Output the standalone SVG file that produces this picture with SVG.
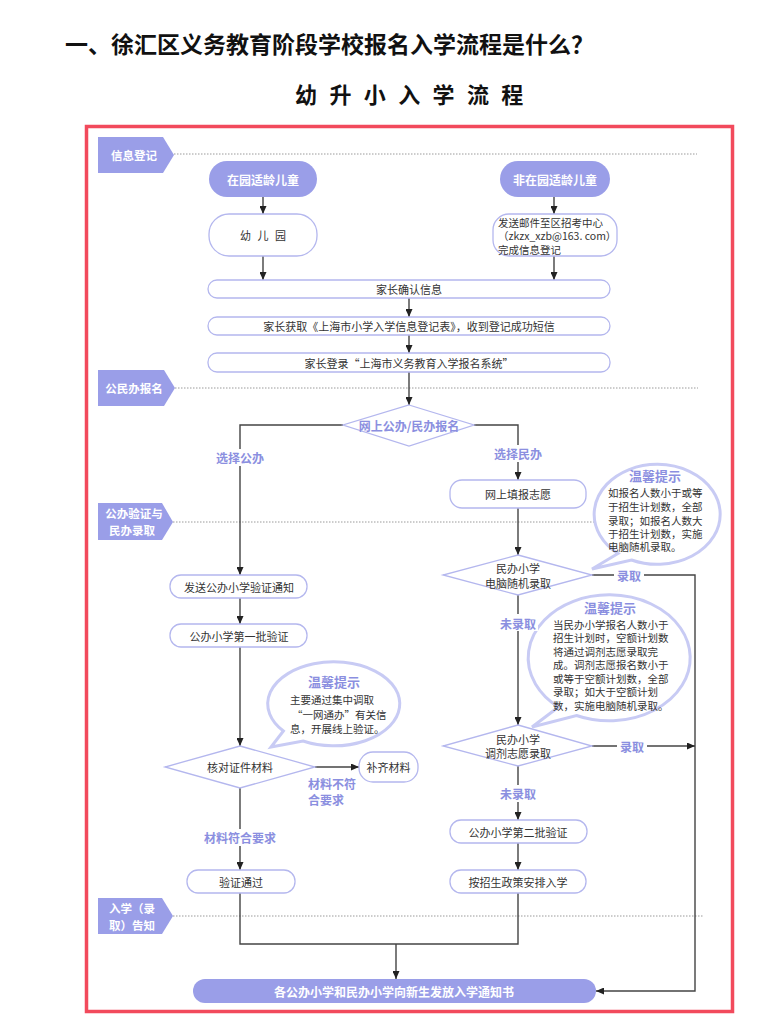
<svg xmlns="http://www.w3.org/2000/svg" width="782" height="1022" viewBox="0 0 782 1022">
<style>
text{font-family:"Noto Sans CJK SC","Noto Sans",sans-serif;dominant-baseline:central}
.lane{fill:#9a9ee8}
.lanet{fill:#fff;font-size:11.5px;font-weight:bold;text-anchor:middle}
.pill{fill:#9a9ee8}
.pt{fill:#fff;font-size:12px;font-weight:bold;text-anchor:middle}
.box{fill:#fff;stroke:#b4b7ee;stroke-width:1.3}
.bt{font-size:11px;fill:#333;text-anchor:middle}
.conn{stroke:#444;stroke-width:1.4;fill:none}
.dot{stroke:#9a9a9a;stroke-width:1;stroke-dasharray:1.5 1.5;fill:none}
.lbl{fill:#8b8fe0;font-size:12px;font-weight:bold;text-anchor:middle}
.lbls{fill:#8b8fe0;font-size:12px;font-weight:bold}
.bub{fill:#fff;stroke:#c8cbf4;stroke-width:3}
.tipt{fill:#8b8fe0;font-size:13px;font-weight:bold;text-anchor:middle}
.tip{fill:#333;font-size:10.5px}
.dia{fill:#fff;stroke:#b4b7ee;stroke-width:1.3}
</style>
<defs>
<marker id="ar" viewBox="0 0 8 7" refX="8" refY="3.5" markerWidth="8" markerHeight="7" markerUnits="userSpaceOnUse" orient="auto">
<path d="M0,0 L8,3.5 L0,7 z" fill="#222"/>
</marker>
</defs>
<rect width="782" height="1022" fill="#fff"/>
<text x="65" y="43" font-size="23" font-weight="bold" fill="#111">一、徐汇区义务教育阶段学校报名入学流程是什么？</text>
<text x="295" y="93" font-size="22" font-weight="bold" fill="#111" letter-spacing="3.7">幼 升 小 入 学 流 程</text>
<rect x="86.5" y="126.5" width="646" height="885" fill="none" stroke="#f24a5c" stroke-width="3.5"/>

<g id="lanes">
<path class="dot" d="M174,154 H697"/>
<path class="dot" d="M175,388 H698"/>
<path class="dot" d="M173,522 H697"/>
<path class="dot" d="M173,916 H703"/>
<g id="lane1"><polygon class="lane" points="98,137 163,137 174,155 163,173 98,173"/><text class="lanet" x="134" y="155">信息登记</text></g>
<g id="lane2"><polygon class="lane" points="98,370 164,370 175,388 164,406 98,406"/><text class="lanet" x="134" y="388">公民办报名</text></g>
<g id="lane3"><polygon class="lane" points="98,503 162,503 173,522 162,540 98,540"/><text class="lanet" x="134" y="513">公办验证与</text><text class="lanet" x="132" y="530">民办录取</text></g>
<g id="lane4"><polygon class="lane" points="98,898 162,898 173,916 162,934 98,934"/><text class="lanet" x="132" y="908">入学（录</text><text class="lanet" x="132" y="925">取）告知</text></g>
</g>

<g id="connectors">
<path class="conn" d="M263,197 V214" marker-end="url(#ar)"/>
<path class="conn" d="M554,197 V214" marker-end="url(#ar)"/>
<path class="conn" d="M263,256 V280" marker-end="url(#ar)"/>
<path class="conn" d="M554,256 V280" marker-end="url(#ar)"/>
<path class="conn" d="M409,298 V317" marker-end="url(#ar)"/>
<path class="conn" d="M409,335 V353" marker-end="url(#ar)"/>
<path class="conn" d="M409,372 V405" marker-end="url(#ar)"/>
<path class="conn" d="M343,425 H240 V575" marker-end="url(#ar)"/>
<path class="conn" d="M474,425 H518 V480" marker-end="url(#ar)"/>
<path class="conn" d="M518,508 V555" marker-end="url(#ar)"/>
<path class="conn" d="M592,575 H695 V991 H596" marker-end="url(#ar)"/>
<path class="conn" d="M518,595 V725" marker-end="url(#ar)"/>
<path class="conn" d="M592,746 H695" marker-end="url(#ar)"/>
<path class="conn" d="M518,766 V820" marker-end="url(#ar)"/>
<path class="conn" d="M518,843 V870" marker-end="url(#ar)"/>
<path class="conn" d="M240,598 V624" marker-end="url(#ar)"/>
<path class="conn" d="M240,647 V746" marker-end="url(#ar)"/>
<path class="conn" d="M315,767 H359" marker-end="url(#ar)"/>
<path class="conn" d="M240,788 V870" marker-end="url(#ar)"/>
<path class="conn" d="M240,893 V944 H518 V893"/>
<path class="conn" d="M396,944 V979" marker-end="url(#ar)"/>
</g>

<g id="n-zaiyuan"><rect class="pill" x="209" y="161" width="108" height="36" rx="18"/><text class="pt" x="263" y="179">在园适龄儿童</text></g>
<g id="n-feizaiyuan"><rect class="pill" x="500" y="161" width="110" height="36" rx="18"/><text class="pt" x="555" y="179">非在园适龄儿童</text></g>
<g id="n-youeryuan"><rect class="box" x="209" y="214" width="108" height="42" rx="20"/><text class="bt" x="264" y="235" letter-spacing="2">幼 儿 园</text></g>
<g id="n-email"><rect class="box" x="493" y="214" width="124" height="42" rx="16"/><text class="tip" x="498" y="222">发送邮件至区招考中心</text><text class="tip" x="498" y="235.5">（zkzx_xzb@163. com）</text><text class="tip" x="498" y="249">完成信息登记</text></g>
<g id="n-confirm"><rect class="box" x="208" y="280" width="402" height="18" rx="9"/><text class="bt" x="409" y="289">家长确认信息</text></g>
<g id="n-obtain"><rect class="box" x="208" y="317" width="402" height="18" rx="9"/><text class="bt" x="409" y="326">家长获取《上海市小学入学信息登记表》，收到登记成功短信</text></g>
<g id="n-login"><rect class="box" x="208" y="353" width="402" height="19" rx="9"/><text class="bt" x="409" y="362.5">家长登录“上海市义务教育入学报名系统”</text></g>
<g id="n-online"><polygon class="dia" points="409,405 474,425 409,446 343,425"/><text class="lbl" x="409" y="425">网上公办/民办报名</text></g>
<g id="n-fill"><rect class="box" x="450" y="480" width="136" height="28" rx="12"/><text class="bt" x="518" y="494">网上填报志愿</text></g>
<g id="n-random"><polygon class="dia" points="518,555 592,575 518,595 443,575"/><text class="bt" x="518" y="567.5">民办小学</text><text class="bt" x="518" y="582.5">电脑随机录取</text></g>
<g id="n-adjust"><polygon class="dia" points="518,725 592,746 518,766 443,746"/><text class="bt" x="518" y="739">民办小学</text><text class="bt" x="518" y="753">调剂志愿录取</text></g>
<g id="n-second"><rect class="box" x="450" y="820" width="137" height="23" rx="11"/><text class="bt" x="518" y="831.5">公办小学第二批验证</text></g>
<g id="n-arrange"><rect class="box" x="450" y="870" width="136" height="23" rx="11"/><text class="bt" x="518" y="881.5">按招生政策安排入学</text></g>
<g id="n-notice"><rect class="box" x="170" y="575" width="137" height="23" rx="11"/><text class="bt" x="239" y="586.5">发送公办小学验证通知</text></g>
<g id="n-first"><rect class="box" x="170" y="624" width="137" height="23" rx="11"/><text class="bt" x="239" y="635.5">公办小学第一批验证</text></g>
<g id="n-check"><polygon class="dia" points="240,746 315,767 240,788 165,767"/><text class="bt" x="240" y="767">核对证件材料</text></g>
<g id="n-supp"><rect class="box" x="359" y="752" width="59" height="30" rx="14"/><text class="bt" x="388.5" y="767">补齐材料</text></g>
<g id="n-pass"><rect class="box" x="187" y="870" width="108" height="23" rx="11"/><text class="bt" x="241" y="881.5">验证通过</text></g>
<g id="n-final"><rect class="pill" x="193" y="979" width="403" height="24" rx="12"/><text class="pt" x="394" y="991" font-size="11.5">各公办小学和民办小学向新生发放入学通知书</text></g>

<g id="tip1">
<path class="bub" d="M631.5,560 A63 50 0 1 0 618,553.5 L592,569 Z"/>
<text class="tipt" x="655" y="475">温馨提示</text>
<text class="tip" x="608" y="492">如报名人数小于或等</text>
<text class="tip" x="608" y="506">于招生计划数，全部</text>
<text class="tip" x="608" y="520">录取；如报名人数大</text>
<text class="tip" x="608" y="533">于招生计划数，实施</text>
<text class="tip" x="608" y="546">电脑随机录取。</text>
</g>
<g id="tip2">
<path class="bub" d="M576.5,715.5 A81 63 0 1 0 558.5,707 L532,727 Z"/>
<text class="tipt" x="610" y="607">温馨提示</text>
<text class="tip" x="553" y="624">当民办小学报名人数小于</text>
<text class="tip" x="553" y="637.5">招生计划时，空额计划数</text>
<text class="tip" x="553" y="651">将通过调剂志愿录取完</text>
<text class="tip" x="553" y="664.5">成。调剂志愿报名数小于</text>
<text class="tip" x="553" y="678">或等于空额计划数，全部</text>
<text class="tip" x="553" y="691.5">录取；如大于空额计划</text>
<text class="tip" x="553" y="705">数，实施电脑随机录取。</text>
</g>
<g id="tip3">
<path class="bub" d="M303,741 A66 42 0 1 0 283.4,731 L271,747 Z"/>
<text class="tipt" x="334" y="681">温馨提示</text>
<text class="tip" x="290" y="699">主要通过集中调取</text>
<text class="tip" x="292" y="714">“一网通办”有关信</text>
<text class="tip" x="290" y="728">息，开展线上验证。</text>
</g>

<g id="labels">
<rect x="212" y="449" width="56" height="17" fill="#fff"/><text class="lbl" x="240" y="457">选择公办</text>
<rect x="490" y="445" width="56" height="17" fill="#fff"/><text class="lbl" x="518" y="453">选择民办</text>
<rect x="614" y="567" width="30" height="17" fill="#fff"/><text class="lbl" x="629" y="575">录取</text>
<rect x="498" y="614" width="40" height="17" fill="#fff"/><text class="lbl" x="518" y="623">未录取</text>
<rect x="617" y="738" width="30" height="17" fill="#fff"/><text class="lbl" x="632" y="746">录取</text>
<rect x="498" y="785" width="40" height="17" fill="#fff"/><text class="lbl" x="518" y="793">未录取</text>
<rect x="202" y="829" width="76" height="17" fill="#fff"/><text class="lbl" x="240" y="837">材料符合要求</text>
<text class="lbls" x="308" y="783">材料不符</text>
<text class="lbls" x="308" y="799">合要求</text>
</g>
</svg>
